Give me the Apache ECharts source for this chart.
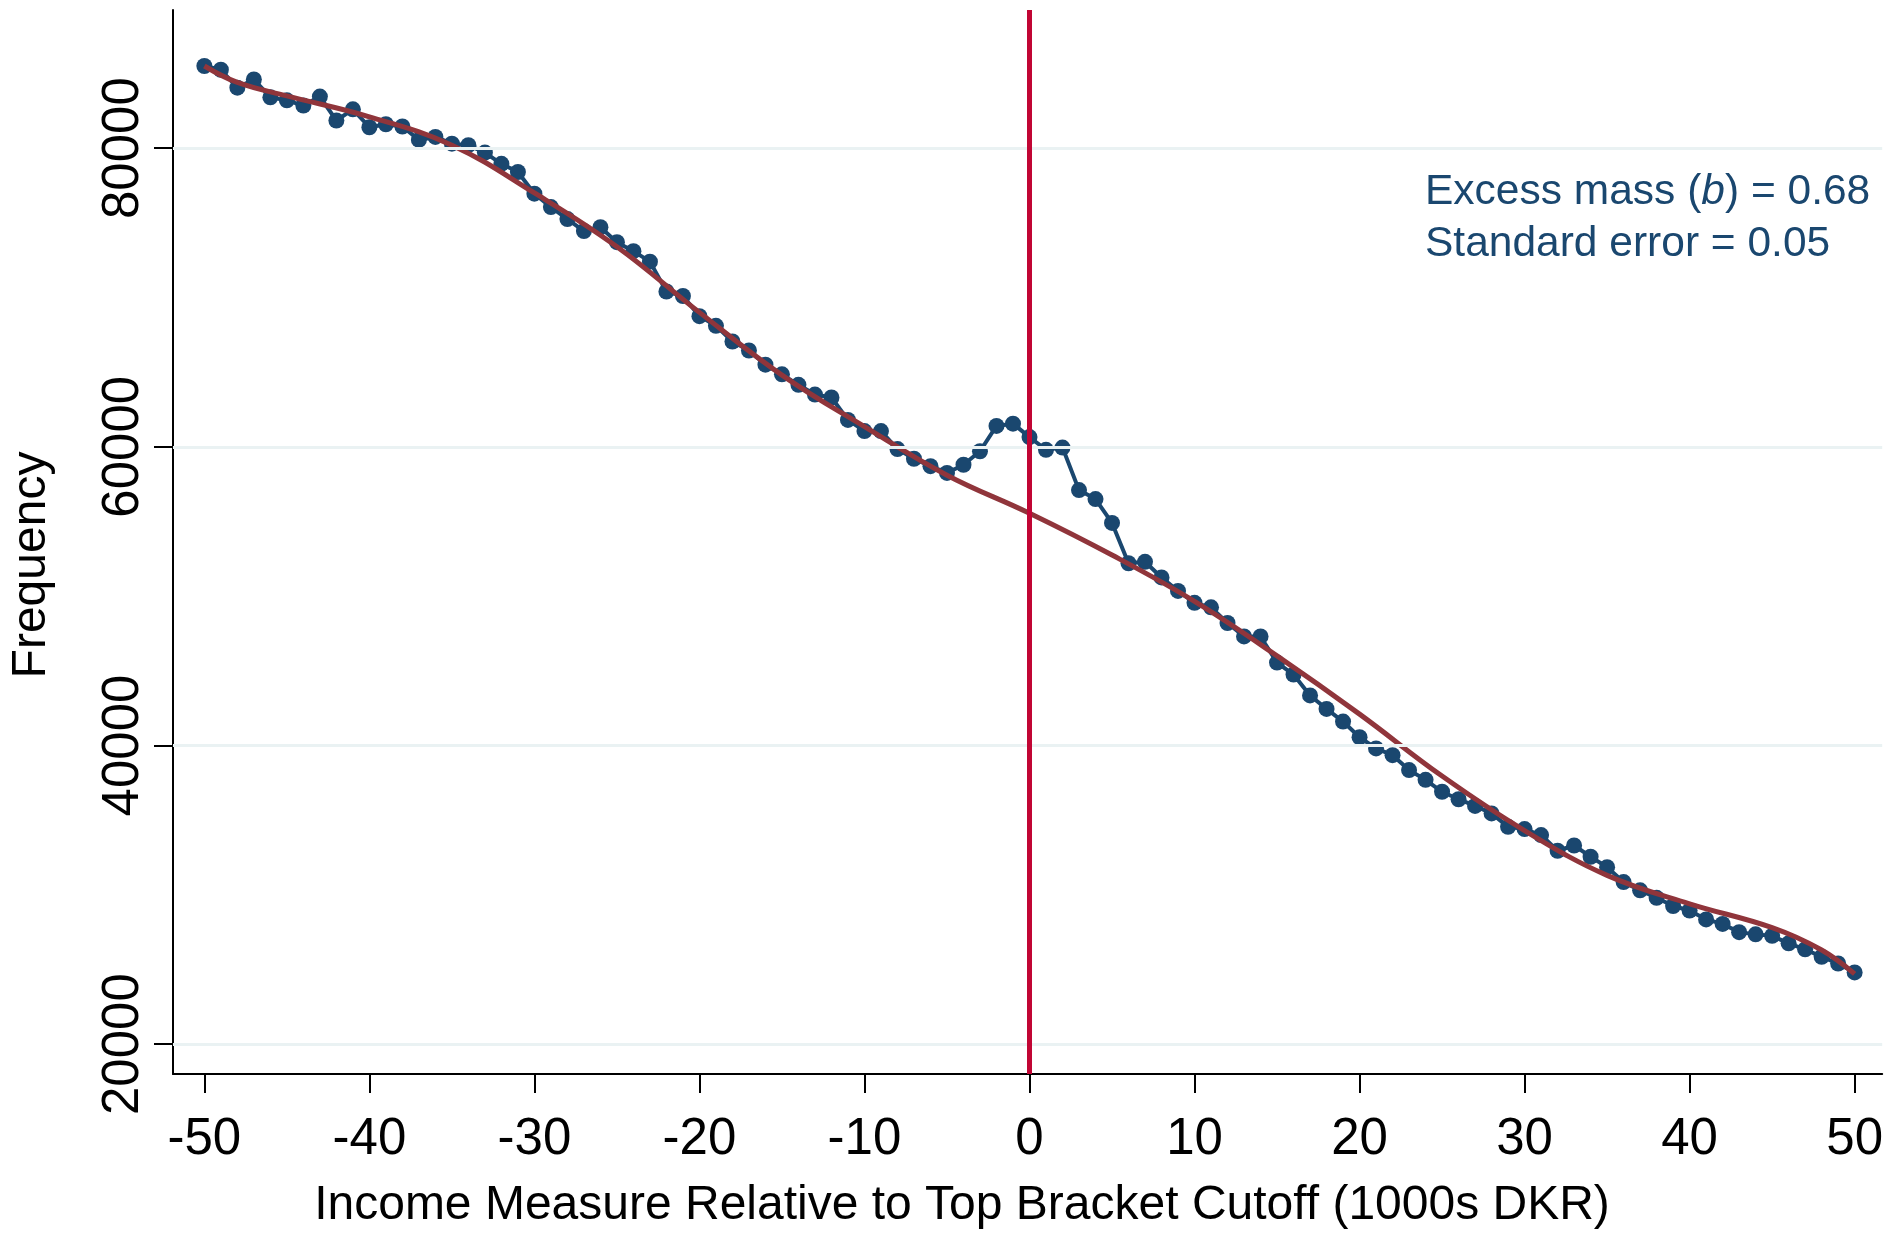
<!DOCTYPE html>
<html>
<head>
<meta charset="utf-8">
<title>Bunching at top bracket cutoff</title>
<script src="https://cdn.jsdelivr.net/npm/echarts@6.0.0/dist/echarts.min.js"></script>
<style>
  html, body { margin: 0; padding: 0; background: #fff; }
  #main { width: 1886px; height: 1233px; }
</style>
</head>
<body>
<div id="main"></div>
<script>
// income bins, relative to cutoff (1000s DKR)
var bins = [-50, -49, -48, -47, -46, -45, -44, -43, -42, -41, -40, -39, -38, -37, -36, -35, -34, -33, -32, -31,
  -30, -29, -28, -27, -26, -25, -24, -23, -22, -21, -20, -19, -18, -17, -16, -15, -14, -13, -12, -11,
  -10, -9, -8, -7, -6, -5, -4, -3, -2, -1, 0, 1, 2, 3, 4, 5, 6, 7, 8, 9,
  10, 11, 12, 13, 14, 15, 16, 17, 18, 19, 20, 21, 22, 23, 24, 25, 26, 27, 28, 29,
  30, 31, 32, 33, 34, 35, 36, 37, 38, 39, 40, 41, 42, 43, 44, 45, 46, 47, 48, 49, 50];

// observed frequency per bin
var frequency = [85500, 85250, 84050, 84600, 83400, 83200, 82850, 83450, 81850, 82600, 81400, 81600, 81450, 80550, 80750, 80300, 80200, 79700, 78950, 78400,
  76950, 76050, 75250, 74450, 74700, 73700, 73100, 72400, 70400, 70100, 68750, 68100, 67050, 66450, 65500, 64850, 64150, 63500, 63300, 61800,
  61050, 61050, 59850, 59200, 58700, 58250, 58800, 59700, 61400, 61550, 60650, 59800, 59950, 57100, 56500, 54900, 52200, 52300, 51250, 50350,
  49550, 49250, 48200, 47300, 47300, 45550, 44750, 43350, 42450, 41600, 40550, 39800, 39350, 38350, 37700, 36900, 36400, 35950, 35450, 34550,
  34400, 34000, 32950, 33300, 32550, 31850, 30850, 30300, 29800, 29250, 28950, 28350, 28050, 27500, 27350, 27250, 26750, 26350, 25850, 25400, 24800];

// counterfactual fit, read at a few points
var fitX = [-50, -48, -45, -40, -35, -30, -25, -20, -15, -10, -5, 0, 5, 10, 15, 20, 25, 30, 35, 40, 45, 48, 50];
var fitY = [85500, 84400, 83500, 82100, 80200, 77000, 73400, 69000, 64800, 61350, 58100, 55550, 52750, 49650, 46000, 42100, 37950, 34300, 31300, 29400, 27800, 26300, 24700];

var xTicks = [-50, -40, -30, -20, -10, 0, 10, 20, 30, 40, 50];
var yTicks = [20000, 40000, 60000, 80000];
var cutoff = 0;

var FONT = '"Liberation Sans", Arial, sans-serif';
var NAVY = '#1a476f';
var MAROON = '#90353b';

function zip(a, b) {
  var out = [];
  for (var i = 0; i < a.length; i++) out.push([a[i], b[i]]);
  return out;
}

var chart = echarts.init(document.getElementById('main'), null, { renderer: 'canvas' });

chart.setOption({
  animation: false,
  backgroundColor: '#fff',
  textStyle: { fontFamily: FONT },
  grid: { left: 173, right: 0, top: 10, bottom: 159, containLabel: false },
  xAxis: {
    type: 'value',
    min: -51.9,
    max: 51.67,
    axisLine: { show: true, onZero: false, lineStyle: { color: '#000', width: 2 } },
    axisTick: { show: true, length: 19, customValues: xTicks, lineStyle: { color: '#000', width: 2 } },
    axisLabel: { customValues: xTicks, fontSize: 51, color: '#000', margin: 40, fontFamily: FONT },
    splitLine: { show: false }
  },
  yAxis: {
    type: 'value',
    min: 18000,
    max: 89250,
    axisLine: { show: true, onZero: false, lineStyle: { color: '#000', width: 2 } },
    axisTick: { show: true, length: 19, customValues: yTicks, lineStyle: { color: '#000', width: 2 } },
    axisLabel: {
      customValues: yTicks, rotate: 90, fontSize: 51, color: '#000', margin: 24, fontFamily: FONT,
      formatter: function (v) { return String(v); }
    },
    splitLine: { show: false }
  },
  graphic: [
    {
      type: 'text', x: 962, y: 1206,
      style: { text: 'Income Measure Relative to Top Bracket Cutoff (1000s DKR)', font: '48px ' + FONT, fill: '#000', textAlign: 'center', textVerticalAlign: 'middle' }
    },
    {
      type: 'text', x: 32, y: 565, rotation: Math.PI / 2,
      style: { text: 'Frequency', font: '48px ' + FONT, fill: '#000', textAlign: 'center', textVerticalAlign: 'middle' }
    },
    {
      type: 'text', x: 1425, y: 192,
      style: {
        text: '{n|Excess mass (}{i|b}{n|) = 0.68}',
        textAlign: 'left', textVerticalAlign: 'middle',
        rich: {
          n: { fontSize: 42.5, fontFamily: FONT, fill: NAVY, color: NAVY },
          i: { fontSize: 42.5, fontFamily: FONT, fontStyle: 'italic', fill: NAVY, color: NAVY }
        }
      }
    },
    {
      type: 'text', x: 1425, y: 244,
      style: { text: 'Standard error = 0.05', font: '42.5px ' + FONT, fill: NAVY, textAlign: 'left', textVerticalAlign: 'middle' }
    }
  ],
  series: [
    {
      // gridlines
      type: 'line', data: [], z: 1, silent: true,
      markLine: {
        silent: true, symbol: 'none', label: { show: false },
        lineStyle: { color: '#eaf2f3', width: 3, type: 'solid' },
        data: yTicks.map(function (v) { return { yAxis: v }; })
      }
    },
    {
      name: 'Observed', type: 'line', z: 2,
      data: zip(bins, frequency),
      symbol: 'circle', symbolSize: 16, showAllSymbol: true,
      itemStyle: { color: NAVY },
      lineStyle: { color: NAVY, width: 4 }
    },
    {
      name: 'Counterfactual', type: 'line', z: 3,
      data: zip(fitX, fitY),
      smooth: 0.4, symbol: 'none',
      lineStyle: { color: MAROON, width: 5 }
    },
    {
      // cutoff line
      type: 'line', data: [], z: 4, silent: true,
      markLine: {
        silent: true, symbol: 'none', label: { show: false },
        lineStyle: { color: '#c10534', width: 5, type: 'solid' },
        data: [{ xAxis: cutoff }]
      }
    }
  ]
});
</script>
</body>
</html>
